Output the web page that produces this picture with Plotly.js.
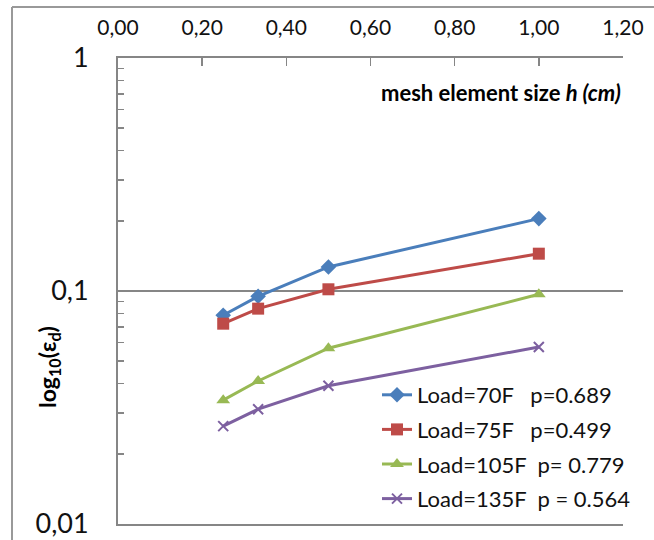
<!DOCTYPE html>
<html>
<head>
<meta charset="utf-8">
<script src="https://cdn.plot.ly/plotly-3.0.1.min.js"></script>
<style>html,body{margin:0;padding:0;background:#fff;}#chart{width:654px;height:540px;}</style>
</head>
<body>
<div id="chart"></div>
<script>
// mesh element size h (cm)
const meshSize = [0.25, 0.333, 0.5, 1.0];
// error values per load case
const load70 = [0.0787, 0.0949, 0.1268, 0.2045];
const load75 = [0.0724, 0.0840, 0.1017, 0.1446];
const load105 = [0.0340, 0.0411, 0.0568, 0.0968];
const load135 = [0.0263, 0.0311, 0.0392, 0.0575];
const seriesNames = ["Load=70F\u00a0\u00a0\u00a0p=0.689", "Load=75F\u00a0\u00a0\u00a0p=0.499", "Load=105F\u00a0\u00a0p=\u00a00.779", "Load=135F\u00a0\u00a0p\u00a0=\u00a00.564"];
const yTickVals = [0.01, 0.1, 1];
const yTickText = ["0,01", "0,1", "1"];
const yMinorVals = [0.02,0.03,0.04,0.05,0.06,0.07,0.08,0.09,0.2,0.3,0.4,0.5,0.6,0.7,0.8,0.9];

const colors = ["#4A7EBB", "#BE4B48", "#98B954", "#7D60A0"];
const symbols = ["diamond", "square", "triangle-up", "x-thin-open"];
const sizes = [12, 12, 12, 10];
const values = [load70, load75, load105, load135];

const traces = values.map((v, i) => ({
  x: meshSize, y: v, name: seriesNames[i], type: "scatter", mode: "lines+markers",
  legendgroup: "g" + i,
  line: {color: colors[i], width: 3},
  marker: {symbol: symbols[i], size: sizes[i], color: colors[i],
           line: {color: colors[i], width: i === 3 ? 2 : 0}}
}));

const L = 118, R = 623, T = 58, B = 524, W = 654, H = 540;
const px = x => (x - L) / (R - L);
const py = y => (B - y) / (B - T);
const grey = "#868686";

const layout = {
  width: W, height: H,
  margin: {l: L, r: W - R, t: T, b: H - B, pad: 0},
  paper_bgcolor: "#fff", plot_bgcolor: "#fff",
  separators: ", ",
  font: {family: "Lato, 'Open Sans', sans-serif", color: "#000"},
  showlegend: true,
  xaxis: {
    side: "top", range: [0, 1.2], dtick: 0.2, tick0: 0, tickformat: ".2f",
    ticks: "inside", ticklen: 8, tickwidth: 1.5, tickcolor: grey,
    showline: true, linecolor: grey, linewidth: 2, mirror: true,
    showgrid: false, zeroline: false,
    tickfont: {size: 21, color: "#111"}, ticklabelstandoff: 13
  },
  yaxis: {
    type: "log", range: [-2, 0],
    tickmode: "array", tickvals: yTickVals, ticktext: yTickText,
    ticks: "", showline: true, linecolor: grey, linewidth: 2,
    showgrid: true, gridcolor: grey, gridwidth: 2, zeroline: false,
    tickfont: {size: 27, color: "#111"}, ticklabelstandoff: 22,
    minor: {tickmode: "array", tickvals: yMinorVals, ticks: "inside", ticklen: 6, tickwidth: 1.5, tickcolor: grey, showgrid: false}
  },
  legend: {
    x: px(377), y: py(374), xanchor: "left", yanchor: "top",
    bgcolor: "rgba(0,0,0,0)", borderwidth: 0,
    font: {size: 22, color: "#111"}, tracegroupgap: 3, itemwidth: 30
  },
  annotations: [
    {xref: "paper", yref: "paper", x: 1.0, y: py(92), xanchor: "right", yanchor: "middle",
     text: "<b>mesh element size <i>h (cm)</i></b>", showarrow: false,
     font: {size: 22, color: "#000"}},
    {xref: "paper", yref: "paper", x: px(48), y: py(367), xanchor: "center", yanchor: "middle",
     text: "<b>log<sub>10</sub>(ε<sub>d</sub>)</b>", textangle: -90, showarrow: false,
     font: {size: 23, color: "#000"}}
  ],
  shapes: [
    {type: "line", xref: "paper", yref: "paper", x0: px(12), x1: px(12), y0: py(545), y1: py(7), line: {color: "#999", width: 2}},
    {type: "line", xref: "paper", yref: "paper", x0: px(12), x1: px(660), y0: py(7), y1: py(7), line: {color: "#999", width: 2}}
  ]
};

Plotly.newPlot("chart", traces, layout, {displayModeBar: false, staticPlot: true});
</script>
</body>
</html>
